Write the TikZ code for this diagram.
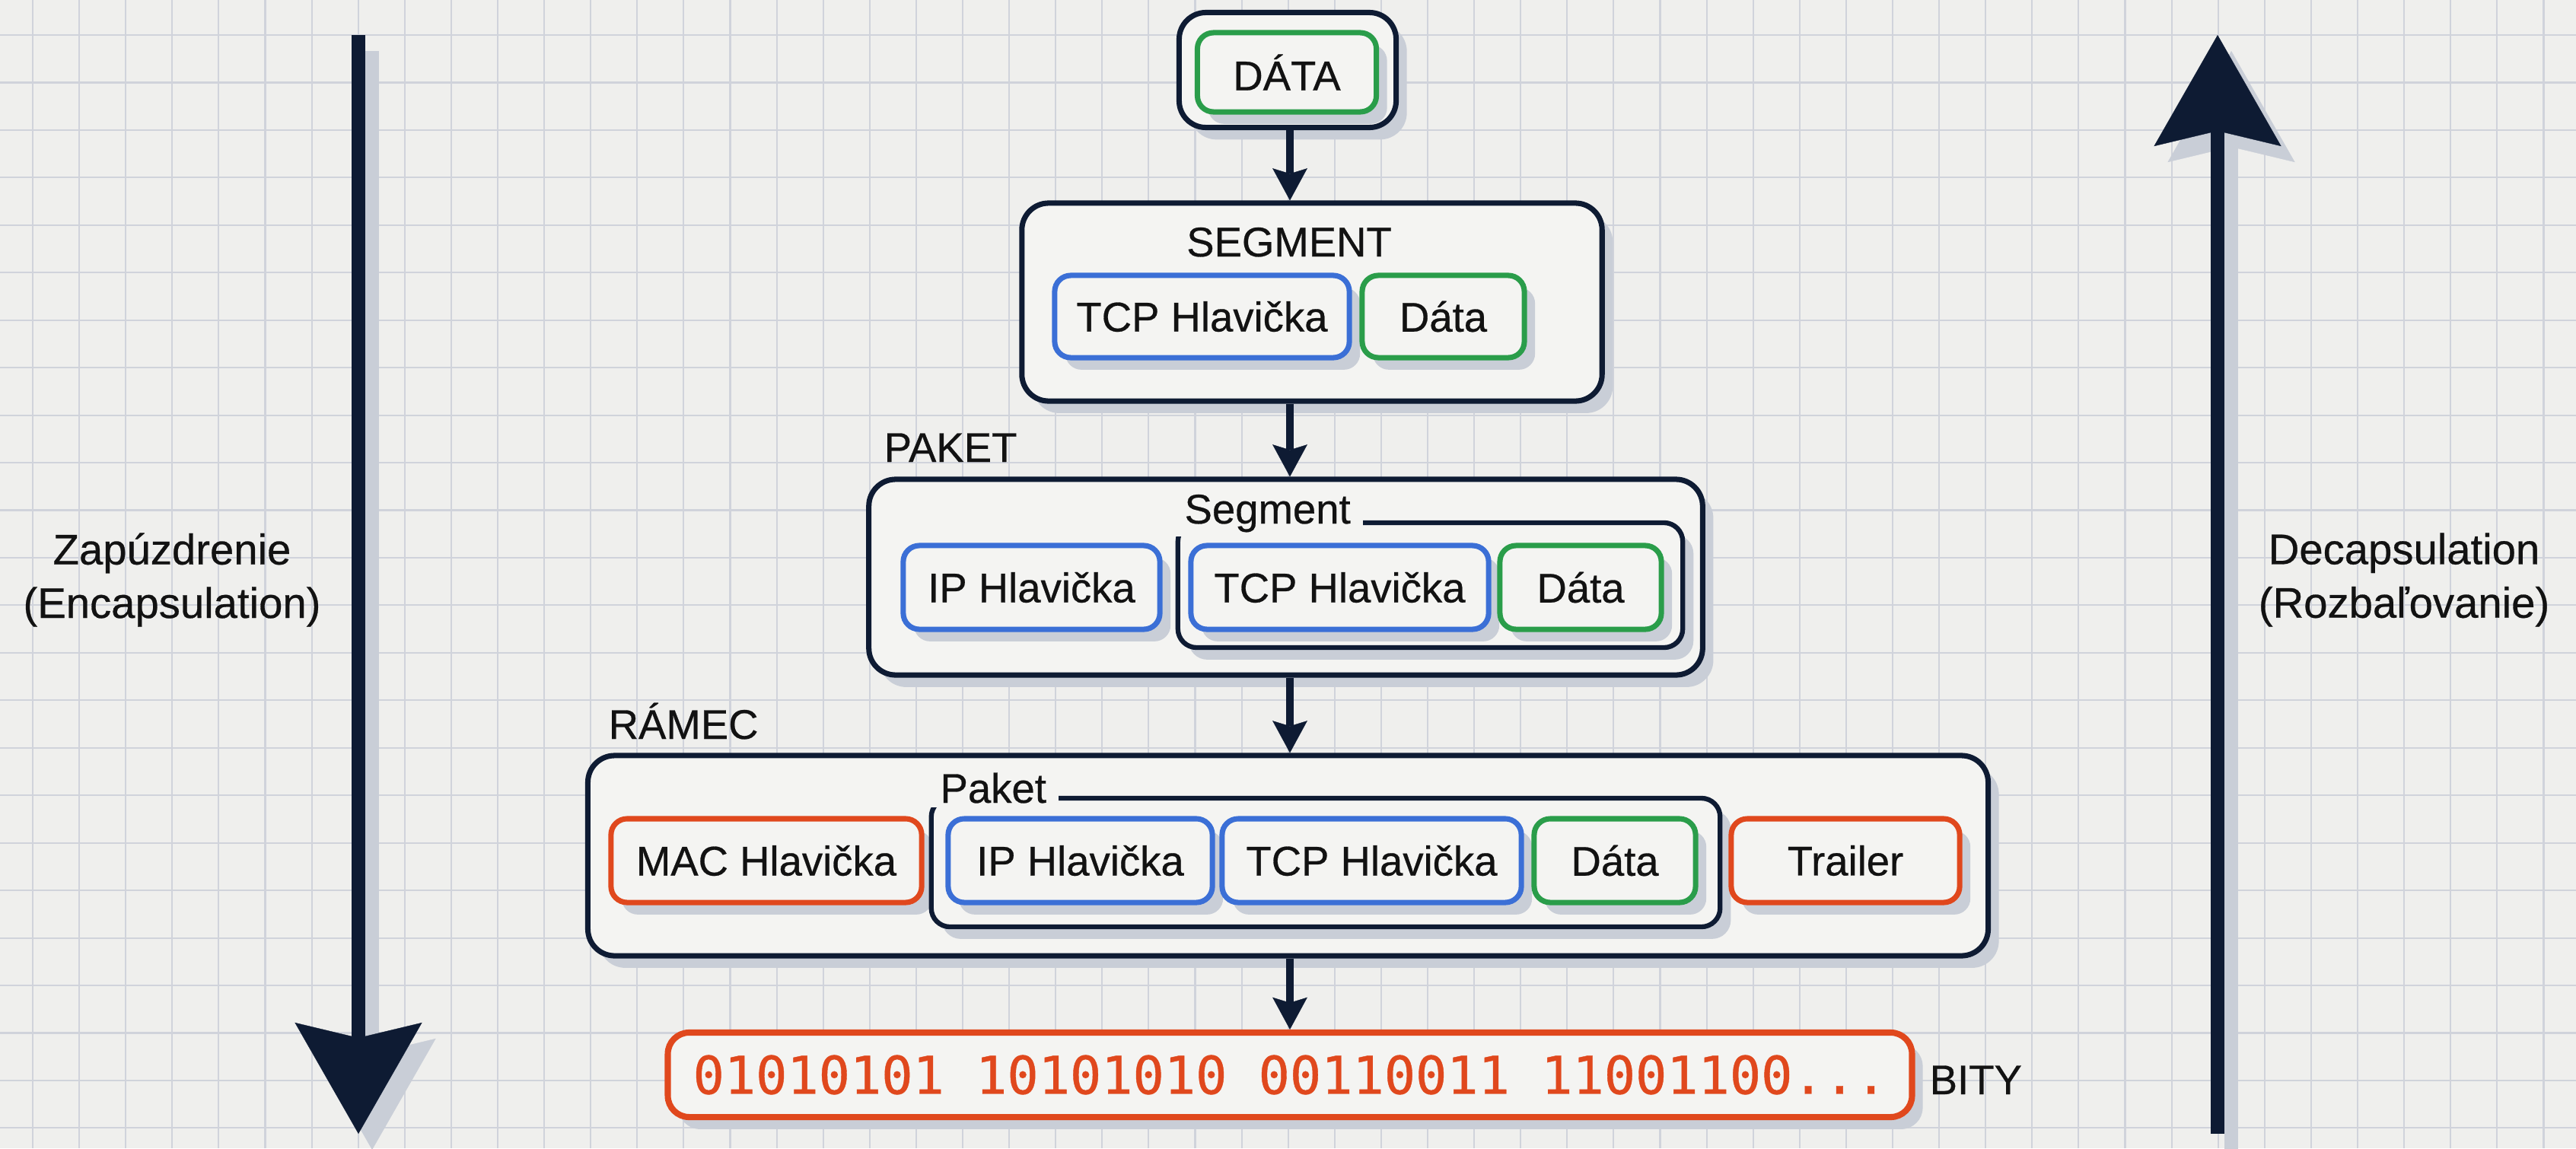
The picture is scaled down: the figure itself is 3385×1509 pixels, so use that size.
\documentclass[tikz,border=0pt]{standalone}
\usepackage{fontspec}
\setmainfont{Liberation Sans}
\newfontfamily\uifont{Liberation Sans}[FakeBold=0.5]
\newfontfamily\bitsfont{DejaVu Sans Mono}[FakeBold=0.6]
\usetikzlibrary{arrows.meta,shadows}

\definecolor{paper}{HTML}{EFEFED}
\definecolor{gridc}{HTML}{D0D3DB}
\definecolor{navy}{HTML}{0E1B33}
\definecolor{hdrblue}{HTML}{3B6FD6}
\definecolor{datagreen}{HTML}{2A9D4A}
\definecolor{framered}{HTML}{E0481D}
\definecolor{shade}{HTML}{C9CED7}
\definecolor{boxfill}{HTML}{F4F4F2}
\definecolor{ink}{HTML}{121212}

\tikzset{
  shadowed/.style={drop shadow={shadow xshift=4pt,shadow yshift=-4.5pt,fill=shade,opacity=1}},
  txt/.style={font=\uifont\fontsize{15.5}{18}\selectfont, text=ink},
  outerbox/.style={draw=navy, line width=2pt, fill=boxfill, rounded corners=10pt, shadowed, inner sep=0pt},
  groupbox/.style={draw=navy, line width=1.8pt, fill=boxfill, rounded corners=7pt, shadowed, inner sep=0pt},
  field/.style={line width=2pt, fill=boxfill, rounded corners=6pt, shadowed, inner sep=0pt, txt},
  hdr/.style={field, draw=hdrblue},
  payload/.style={field, draw=datagreen},
  linkfield/.style={field, draw=framered},
  tag/.style={txt, inner sep=0pt, anchor=base west},
  grouptag/.style={txt, fill=boxfill, inner xsep=4.5pt, inner ysep=1.5pt, anchor=base west},
  flow/.style={draw=navy, line width=2.8pt, -{Stealth[length=12pt,width=13pt,inset=2pt,line width=0.1pt]}},
  bigtip/.style={-{Stealth[length=1.46cm,width=1.67cm,inset=0.2cm,line width=0.1pt]}},
  bigflow/.style={draw=navy, line width=5.1pt, bigtip},
  bigshade/.style={draw=shade, line width=5.1pt, bigtip},
  side/.style={font=\uifont\fontsize{16}{20}\selectfont, text=ink, align=center},
}

\begin{document}
\begin{tikzpicture}[x=0.01cm, y=-0.01cm]
  % paper and grid
  \useasboundingbox (0,0) rectangle (3385,1509);
  \fill[paper] (0,0) rectangle (3385,1509);
  \foreach \k in {0,...,54}
    \draw[gridc, line width=0.6pt] ({43+61.1*\k},0) -- ({43+61.1*\k},1509);
  \foreach \k in {0,...,23}
    \draw[gridc, line width=0.6pt] (0,{46+62.45*\k}) -- (3385,{46+62.45*\k});

  % side arrows: encapsulation down, decapsulation up
  \coordinate (encTop) at (471,46);
  \coordinate (encBot) at (471,1490);
  \coordinate (decBot) at (2914,1490);
  \coordinate (decTop) at (2914,46);
  \draw[bigshade] ([shift={(18,21)}]encTop) -- ([shift={(18,21)}]encBot);
  \draw[bigflow] (encTop) -- (encBot);
  \draw[bigshade] ([shift={(18,21)}]decBot) -- ([shift={(18,21)}]decTop);
  \draw[bigflow] (decBot) -- (decTop);
  \node[side] (encLabel) at (226,762) {Zapúzdrenie\\(Encapsulation)};
  \node[side] (decLabel) at (3159,762) {Decapsulation\\(Rozbaľovanie)};

  % application data
  \node[outerbox, minimum width=2.85cm, minimum height=1.51cm] (dataOuter) at (1692,92) {};
  \node[payload, minimum width=2.35cm, minimum height=1.04cm] (dataCore) at (1691,95) {DÁTA};

  % transport layer: segment
  \node[outerbox, minimum width=7.62cm, minimum height=2.60cm] (segBox) at (1724,397) {};
  \node[tag, anchor=base] (segTitle) at (1694,337) {SEGMENT};
  \node[hdr, minimum width=3.87cm, minimum height=1.08cm] (segTcp) at (1579.5,416) {TCP Hlavička};
  \node[payload, minimum width=2.13cm, minimum height=1.08cm] (segData) at (1896.5,416) {Dáta};

  % network layer: packet
  \node[tag] (pktTitle) at (1161,607) {PAKET};
  \node[outerbox, minimum width=10.95cm, minimum height=2.57cm] (pktBox) at (1689.5,758.5) {};
  \node[hdr, minimum width=3.37cm, minimum height=1.10cm] (pktIp) at (1355.5,772) {IP Hlavička};
  \node[groupbox, minimum width=6.63cm, minimum height=1.64cm] (pktSeg) at (1879.5,769) {};
  \node[grouptag] (pktSegTag) at (1540,688) {Segment};
  \node[hdr, minimum width=3.91cm, minimum height=1.10cm] (pktTcp) at (1760.5,772) {TCP Hlavička};
  \node[payload, minimum width=2.12cm, minimum height=1.10cm] (pktData) at (2077,772) {Dáta};

  % data link layer: frame
  \node[tag] (frmTitle) at (799,971) {RÁMEC};
  \node[outerbox, minimum width=18.39cm, minimum height=2.63cm] (frmBox) at (1692.5,1124.5) {};
  \node[linkfield, minimum width=4.08cm, minimum height=1.10cm] (frmMac) at (1007,1131) {MAC Hlavička};
  \node[groupbox, minimum width=10.36cm, minimum height=1.69cm] (frmPkt) at (1742,1133.5) {};
  \node[grouptag] (frmPktTag) at (1219,1055) {Paket};
  \node[hdr, minimum width=3.47cm, minimum height=1.10cm] (frmIp) at (1419.5,1131) {IP Hlavička};
  \node[hdr, minimum width=3.93cm, minimum height=1.10cm] (frmTcp) at (1802.5,1131) {TCP Hlavička};
  \node[payload, minimum width=2.12cm, minimum height=1.10cm] (frmData) at (2122,1131) {Dáta};
  \node[linkfield, minimum width=3.00cm, minimum height=1.10cm] (frmTrl) at (2425,1131) {Trailer};

  % physical layer: bits
  \node[linkfield, line width=2.3pt, rounded corners=8pt, minimum width=16.34cm, minimum height=1.11cm,
        font=\bitsfont\fontsize{19.5}{22}\selectfont, text=framered] (bits) at (1695,1412.5)
        {01010101 10101010 00110011 11001100...};
  \node[tag] (bitsTag) at (2535,1438) {BITY};

  % downward flow between layers
  \coordinate (axis) at (1695,0);
  \draw[flow] (dataOuter.south -| axis) -- (segBox.north -| axis);
  \draw[flow] (segBox.south -| axis) -- (pktBox.north -| axis);
  \draw[flow] (pktBox.south -| axis) -- (frmBox.north -| axis);
  \draw[flow] (frmBox.south -| axis) -- (bits.north -| axis);
\end{tikzpicture}
\end{document}
